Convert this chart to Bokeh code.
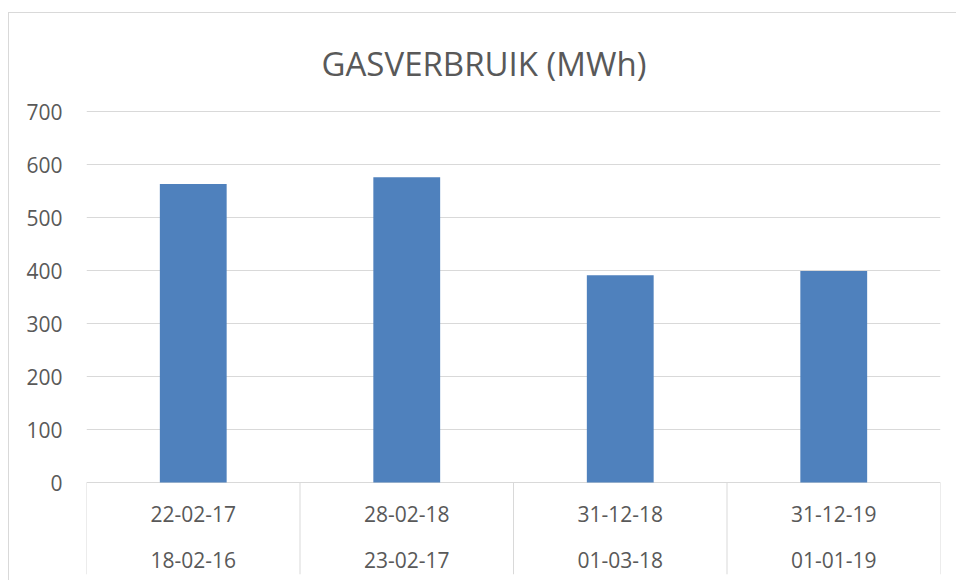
import numpy as np
from bokeh.plotting import figure
from bokeh.models import Range1d, FixedTicker, Title
from bokeh.core.properties import value
from bokeh.embed import file_html
from bokeh.resources import INLINE

# ---- data ----
top_labels = ["22-02-17", "28-02-18", "31-12-18", "31-12-19"]
bottom_labels = ["18-02-16", "23-02-17", "01-03-18", "01-01-19"]
values = [563, 576, 391, 399]
y_ticks = [0, 100, 200, 300, 400, 500, 600, 700]
title_text = "GASVERBRUIK (MWh)"

# ---- style ----
BAR = "#4F81BD"
GRID = "#D9D9D9"
TXT = "#595959"
FONT = "Open Sans"

px_per_unit = 0.53
frame_h = 464
y_end = 700 + 1 / px_per_unit
y_start = y_end - frame_h / px_per_unit

n = len(values)
xs = np.arange(n) + 0.5
edges = np.arange(n + 1)

p = figure(width=948, height=568, output_backend="svg", toolbar_location=None,
           x_range=Range1d(0, n), y_range=Range1d(y_start, y_end),
           min_border_left=77, min_border_right=17, min_border_top=97, min_border_bottom=7,
           x_axis_location=None)
p.outline_line_color = None
p.background_fill_color = "white"
p.border_fill_color = "white"
p.styles = {"margin-left": "8px", "margin-top": "12px",
            "border-left": "1px solid #D9D9D9", "border-top": "1px solid #D9D9D9"}

t = Title(text=title_text, align="left", offset=235, standoff=50,
          text_font=FONT, text_font_size="33px", text_font_style="normal", text_color=TXT)
p.add_layout(t, "above")

p.xgrid.visible = False
p.ygrid.ticker = FixedTicker(ticks=y_ticks)
p.ygrid.grid_line_color = GRID
p.ygrid.grid_line_width = 1

ax = p.yaxis[0]
ax.ticker = FixedTicker(ticks=y_ticks)
ax.axis_line_color = None
ax.major_tick_line_color = None
ax.minor_tick_line_color = None
ax.major_label_standoff = 18
ax.major_label_text_font = FONT
ax.major_label_text_font_size = "21px"
ax.major_label_text_color = TXT

p.vbar(x=xs, top=values, width=0.313, bottom=0, fill_color=BAR, line_color=None)

# category separators
p.segment(x0=edges, y0=[0] * (n + 1), x1=edges, y1=[y_start] * (n + 1),
          line_color=GRID, line_width=1)

# category labels (two levels)
p.text(x=xs, y=[0] * n, text=top_labels, y_offset=31, text_align="center",
       text_baseline="middle", text_font=value(FONT), text_font_size="21px", text_color=TXT)
p.text(x=xs, y=[0] * n, text=bottom_labels, y_offset=77, text_align="center",
       text_baseline="middle", text_font=value(FONT), text_font_size="21px", text_color=TXT)

open("out.html", "w").write(file_html(p, INLINE))
